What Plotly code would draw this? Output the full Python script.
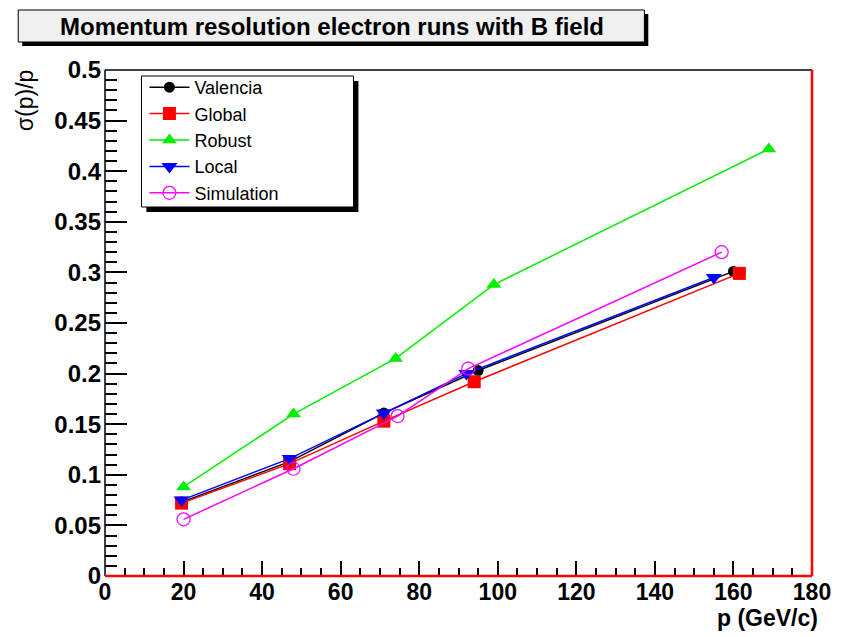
import plotly.graph_objects as go

# ---- data ----
valencia_p = [19.5, 47, 71, 95, 160]
valencia_s = [0.073, 0.113, 0.161, 0.203, 0.301]

global_p = [19.5, 47, 71, 94, 161.5]
global_s = [0.072, 0.111, 0.153, 0.192, 0.299]

robust_p = [20, 48, 74, 99, 169]
robust_s = [0.088, 0.160, 0.215, 0.288, 0.422]

local_p = [19.5, 47, 71, 92, 155]
local_s = [0.075, 0.116, 0.161, 0.200, 0.295]

sim_p = [20, 48, 74.5, 92.5, 157]
sim_s = [0.056, 0.106, 0.158, 0.205, 0.320]

series_names = ["Valencia", "Global", "Robust", "Local", "Simulation"]

title_text = "Momentum resolution electron runs with B field"
x_title = "p (GeV/c)"
y_title = "σ(p)/p"

# ---- geometry (pixels of the 843x637 canvas) ----
W, H = 843, 637
L, R, T, B = 105, 822, 70, 576
PW, PH = R - L, B - T


def px(x):
    return (x - L) / PW


def py(y):
    return (B - y) / PH


FONT = "Liberation Sans"

fig = go.Figure()

styles = [
    (valencia_p, valencia_s, "#000000", dict(symbol="circle", size=11)),
    (global_p, global_s, "#ff0000", dict(symbol="square", size=13)),
    (robust_p, robust_s, "#00ee00", dict(symbol="triangle-up", size=13)),
    (local_p, local_s, "#0000ff", dict(symbol="triangle-down", size=14)),
    (sim_p, sim_s, "#ff00ff", dict(symbol="circle-open", size=13, line=dict(width=1.2))),
]
for name, (xs, ys, col, mk) in zip(series_names, styles):
    fig.add_trace(go.Scatter(
        x=xs, y=ys, mode="lines+markers", name=name, legendgroup=name,
        line=dict(color=col, width=1.5),
        marker=dict(color=col, **mk),
    ))

shapes = []
# title box with shadow
shapes.append(dict(type="rect", xref="paper", yref="paper",
                   x0=px(21), x1=px(656), y0=py(14), y1=py(46),
                   fillcolor="black", line=dict(width=0)))
shapes.append(dict(type="rect", xref="paper", yref="paper",
                   x0=px(17), x1=px(652), y0=py(10), y1=py(42),
                   fillcolor="#f0f0f0", line=dict(color="black", width=1)))
# legend box with shadow
shapes.append(dict(type="rect", xref="paper", yref="paper", layer="above",
                   x0=px(147), x1=px(362), y0=py(81), y1=py(212),
                   fillcolor="black", line=dict(width=0)))
shapes.append(dict(type="rect", xref="paper", yref="paper", layer="above",
                   x0=px(142), x1=px(357), y0=py(76), y1=py(207),
                   fillcolor="white", line=dict(color="black", width=1)))
# frame
shapes.append(dict(type="line", xref="paper", yref="paper", x0=0, x1=1, y0=1, y1=1,
                   line=dict(color="black", width=1.5)))
shapes.append(dict(type="line", xref="paper", yref="paper", x0=0, x1=0, y0=0, y1=1,
                   line=dict(color="black", width=1.5)))
shapes.append(dict(type="line", xref="paper", yref="paper", x0=0, x1=1, y0=0, y1=0,
                   line=dict(color="#ff0000", width=2.5)))
shapes.append(dict(type="line", xref="paper", yref="paper", x0=1, x1=1, y0=0, y1=1,
                   line=dict(color="#ff0000", width=2.5)))

annotations = [
    dict(text=title_text, xref="paper", yref="paper", x=px(335), y=py(26),
         xanchor="center", yanchor="middle", showarrow=False,
         font=dict(family=FONT, size=24, color="black", weight="bold")),
    dict(text=x_title, xref="paper", yref="paper", x=px(830), y=py(618),
         xanchor="right", yanchor="middle", showarrow=False,
         font=dict(family=FONT, size=23, color="black", weight="bold")),
    dict(text=y_title, xref="paper", yref="paper", x=px(24), y=py(100),
         xanchor="center", yanchor="middle", showarrow=False, textangle=-90,
         font=dict(family=FONT, size=23, color="black")),
]

fig.update_layout(
    width=W, height=H,
    margin=dict(l=L, r=W - R, t=T, b=H - B, pad=0),
    paper_bgcolor="white", plot_bgcolor="white",
    showlegend=True,
    legend=dict(x=px(145), y=py(69), xanchor="left", yanchor="top",
                bgcolor="rgba(0,0,0,0)", borderwidth=0,
                font=dict(family="Liberation Sans", size=18, color="black"),
                tracegroupgap=0, itemwidth=40),
    shapes=shapes, annotations=annotations,
    xaxis=dict(range=[0, 180], showgrid=False, zeroline=False, showline=False,
               ticks="inside", ticklen=15, tickwidth=1.5, tickcolor="black",
               tick0=0, dtick=20, ticklabelstandoff=0,
               tickfont=dict(family=FONT, size=23, color="black", weight="bold"),
               minor=dict(ticks="inside", dtick=5, ticklen=8, tickwidth=1.5,
                          tickcolor="black", showgrid=False)),
    yaxis=dict(range=[0, 0.5], showgrid=False, zeroline=False, showline=False,
               ticks="inside", ticklen=22, tickwidth=1.5, tickcolor="black",
               tick0=0, dtick=0.05, ticklabelstandoff=3,
               tickfont=dict(family=FONT, size=24, color="black", weight="bold"),
               minor=dict(ticks="inside", dtick=0.01, ticklen=12, tickwidth=1.5,
                          tickcolor="black", showgrid=False)),
)

fig.write_html("out.html")
